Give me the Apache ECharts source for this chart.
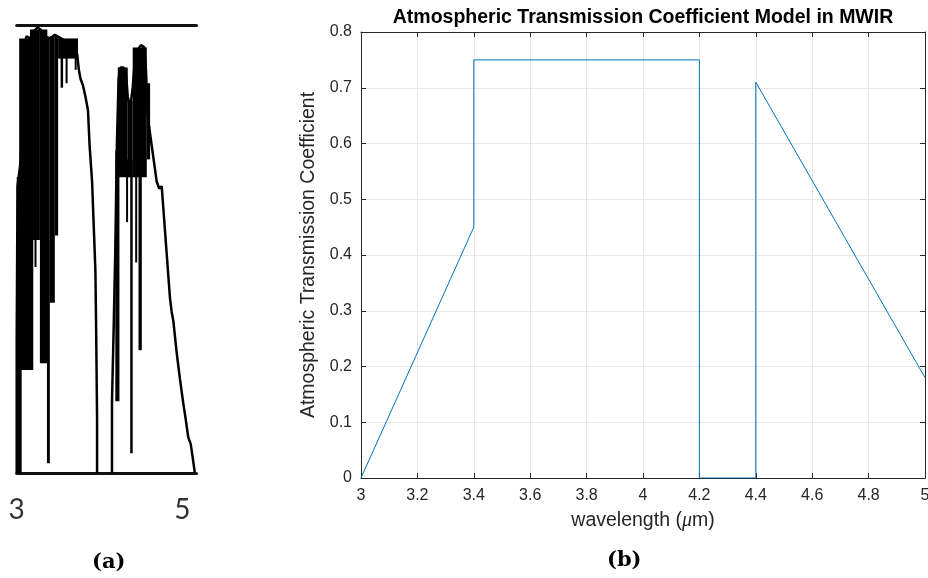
<!DOCTYPE html>
<html><head><meta charset="utf-8">
<script src="https://cdn.jsdelivr.net/npm/echarts@6/dist/echarts.min.js"></script>
<style>html,body{margin:0;padding:0;background:#fff}#c{width:928px;height:578px}</style>
</head><body><div id="c"></div>
<script>
const aTickValues = [3, 5];
// outline of first window [wavelength, transmission]
const aOutlineBand1 = [[3.00,0.00],[3.00,0.30],[3.01,0.64],[3.05,0.70],[3.07,0.82],[3.09,0.96],[3.12,0.975],[3.16,0.97],[3.20,0.985],[3.25,0.994],[3.29,0.99],[3.31,0.965],[3.34,0.975],[3.40,0.97],[3.46,0.978],[3.52,0.972],[3.58,0.965],[3.64,0.958],[3.70,0.948],[3.73,0.935],[3.75,0.90],[3.77,0.88],[3.80,0.865],[3.83,0.84],[3.86,0.81],[3.88,0.73],[3.91,0.65],[3.93,0.55],[3.95,0.45],[3.96,0.30],[3.97,0.12],[3.97,0.00]];
// outline of second window
const aOutlineBand2 = [[4.15,0.00],[4.15,0.16],[4.17,0.32],[4.19,0.50],[4.21,0.74],[4.23,0.88],[4.25,0.905],[4.29,0.905],[4.32,0.89],[4.34,0.84],[4.37,0.815],[4.40,0.86],[4.43,0.93],[4.46,0.945],[4.50,0.955],[4.54,0.95],[4.56,0.90],[4.58,0.80],[4.60,0.77],[4.63,0.73],[4.66,0.69],[4.69,0.65],[4.72,0.635],[4.75,0.64],[4.77,0.59],[4.79,0.54],[4.81,0.49],[4.83,0.44],[4.85,0.39],[4.87,0.36],[4.89,0.34],[4.93,0.27],[4.97,0.21],[5.01,0.156],[5.04,0.12],[5.07,0.08],[5.10,0.065],[5.12,0.04],[5.15,0.00]];
// dense (solid black) absorption-line regions: [wl start, wl end, low T, high T]
const aDenseBlocks = [
  [3.00,3.06,0.00,0.66],[3.03,3.20,0.23,0.97],[3.16,3.28,0.52,0.99],[3.215,3.235,0.46,0.99],
  [3.28,3.37,0.245,0.99],[3.365,3.40,0.022,0.97],[3.40,3.46,0.38,0.975],[3.46,3.50,0.53,0.975],
  [3.50,3.74,0.925,0.97],[3.53,3.56,0.86,0.95],[3.59,3.61,0.87,0.95],[3.70,3.72,0.90,0.94],
  [4.19,4.24,0.16,0.72],[4.22,4.34,0.66,0.905],[4.32,4.34,0.56,0.70],[4.34,4.40,0.66,0.83],
  [4.37,4.40,0.044,0.70],[4.40,4.57,0.66,0.95],[4.43,4.45,0.47,0.70],[4.47,4.51,0.274,0.70],
  [4.57,4.61,0.70,0.87]
];

// ---------- Panel (b): model ----------
const bWavelength = [3, 3.4, 3.4, 4.2, 4.2, 4.4, 4.4, 5];
const bCoefficient = [0, 0.45, 0.75, 0.75, 0, 0, 0.71, 0.18];
const bXTicks = [3, 3.2, 3.4, 3.6, 3.8, 4, 4.2, 4.4, 4.6, 4.8, 5];
const bYTicks = [0, 0.1, 0.2, 0.3, 0.4, 0.5, 0.6, 0.7, 0.8];
const bTitle = 'Atmospheric Transmission Coefficient Model in MWIR';
const bXName = 'wavelength';
const bYName = 'Atmospheric Transmission Coefficient';

const chart = echarts.init(document.getElementById('c'), null, {renderer: 'canvas'});
const txt = '#262626';
const ff = '"Liberation Sans", Arial, Helvetica, sans-serif';

const option = {
  backgroundColor: '#fff',
  animation: false,
  title: {
    text: bTitle, left: 638, top: 3, textAlign: 'center',
    textStyle: {fontFamily: ff, fontWeight: 'bold', fontSize: 19.5, color: '#000'}
  },
  grid: [
    {left: 16.7, right: 731.5, top: 25, bottom: 105, outerBoundsMode: 'none', containLabel: false},
    {left: 361, right: 3, top: 32, bottom: 100, outerBoundsMode: 'none', containLabel: false}
  ],
  xAxis: [
    { gridIndex: 0, type: 'value', min: 3, max: 5.17, interval: 1, position: 'bottom',
      axisLine: {onZero: false, lineStyle: {color: '#111', width: 3}},
      axisTick: {show: false}, splitLine: {show: false},
      axisLabel: {color: '#333', fontFamily: 'Lato, "Open Sans", sans-serif', fontSize: 28, lineHeight: 28, margin: 23,
        showMaxLabel: false,
        formatter: v => aTickValues.some(t => Math.abs(t - v) < 1e-6) ? String(v) : ''} },
    { gridIndex: 0, type: 'value', min: 3, max: 5.17, position: 'top',
      axisLine: {onZero: false, lineStyle: {color: '#111', width: 3}},
      axisTick: {show: false}, axisLabel: {show: false}, splitLine: {show: false} },
    { gridIndex: 1, type: 'value', min: 3, max: 5, interval: 0.2, position: 'bottom',
      axisLine: {onZero: false, lineStyle: {color: txt, width: 1}},
      axisTick: {inside: true, length: 5, lineStyle: {color: txt}},
      axisLabel: {color: txt, fontFamily: ff, fontSize: 16, margin: 10,
        formatter: v => { const t = bXTicks.find(k => Math.abs(k - v) < 1e-6); return t === undefined ? '' : String(t); }},
      splitLine: {show: true, lineStyle: {color: '#e6e6e6', width: 1}},
      name: bXName, nameLocation: 'middle', nameGap: 33,
      nameTextStyle: {color: txt, fontFamily: ff, fontSize: 19.5,
        rich: {it: {fontStyle: 'italic', fontFamily: '"Liberation Serif", serif', fontSize: 20, color: txt}}},
    },
    { gridIndex: 1, type: 'value', min: 3, max: 5, interval: 0.2, position: 'top',
      axisLine: {onZero: false, lineStyle: {color: txt, width: 1}},
      axisTick: {inside: true, length: 5, lineStyle: {color: txt}},
      axisLabel: {show: false}, splitLine: {show: false} }
  ],
  yAxis: [
    { gridIndex: 0, type: 'value', min: 0, max: 1, show: false },
    { gridIndex: 1, type: 'value', min: 0, max: 0.8, interval: 0.1, position: 'left',
      axisLine: {show: true, onZero: false, lineStyle: {color: txt, width: 1}},
      axisTick: {show: true, inside: true, length: 5, lineStyle: {color: txt}},
      axisLabel: {color: txt, fontFamily: ff, fontSize: 16, margin: 9,
        formatter: v => { const t = bYTicks.find(k => Math.abs(k - v) < 1e-6); return t === undefined ? '' : String(t); }},
      splitLine: {show: true, lineStyle: {color: '#e6e6e6', width: 1}},
      name: bYName, nameLocation: 'middle', nameGap: 41, nameRotate: 90,
      nameTextStyle: {color: txt, fontFamily: ff, fontSize: 19.5} },
    { gridIndex: 1, type: 'value', min: 0, max: 0.8, interval: 0.1, position: 'right',
      axisLine: {show: true, onZero: false, lineStyle: {color: txt, width: 1}},
      axisTick: {show: true, inside: true, length: 5, lineStyle: {color: txt}},
      axisLabel: {show: false}, splitLine: {show: false} }
  ],
  series: [
    { type: 'custom', xAxisIndex: 0, yAxisIndex: 0, data: aDenseBlocks,
      encode: {x: [0, 1], y: [2, 3]},
      renderItem: (params, api) => {
        const p0 = api.coord([api.value(0), api.value(3)]);
        const p1 = api.coord([api.value(1), api.value(2)]);
        return {type: 'rect', shape: {x: p0[0], y: p0[1], width: Math.max(2, p1[0] - p0[0]), height: p1[1] - p0[1]},
          style: {fill: '#000'}};
      } },
    { type: 'line', xAxisIndex: 0, yAxisIndex: 0, data: aOutlineBand1, symbol: 'none',
      lineStyle: {color: '#000', width: 2.5} },
    { type: 'line', xAxisIndex: 0, yAxisIndex: 0, data: aOutlineBand2, symbol: 'none',
      lineStyle: {color: '#000', width: 2.5} },
    { type: 'line', xAxisIndex: 2, yAxisIndex: 1, symbol: 'none',
      data: bWavelength.map((x, i) => [x, bCoefficient[i]]),
      lineStyle: {color: '#0072BD', width: 1} }
  ],
  graphic: [
    {type: 'text', left: 92, top: 552, style: {text: '(a)', font: 'bold 21px "DejaVu Serif", serif', fill: '#000'}},
    {type: 'text', left: 607, top: 550, style: {text: '(b)', font: 'bold 21px "DejaVu Serif", serif', fill: '#000'}}
  ]
};
// x-axis name with italic mu
option.xAxis[2].name = bXName + ' ({it|\u03bc}m)';
chart.setOption(option);
</script>
</body></html>
